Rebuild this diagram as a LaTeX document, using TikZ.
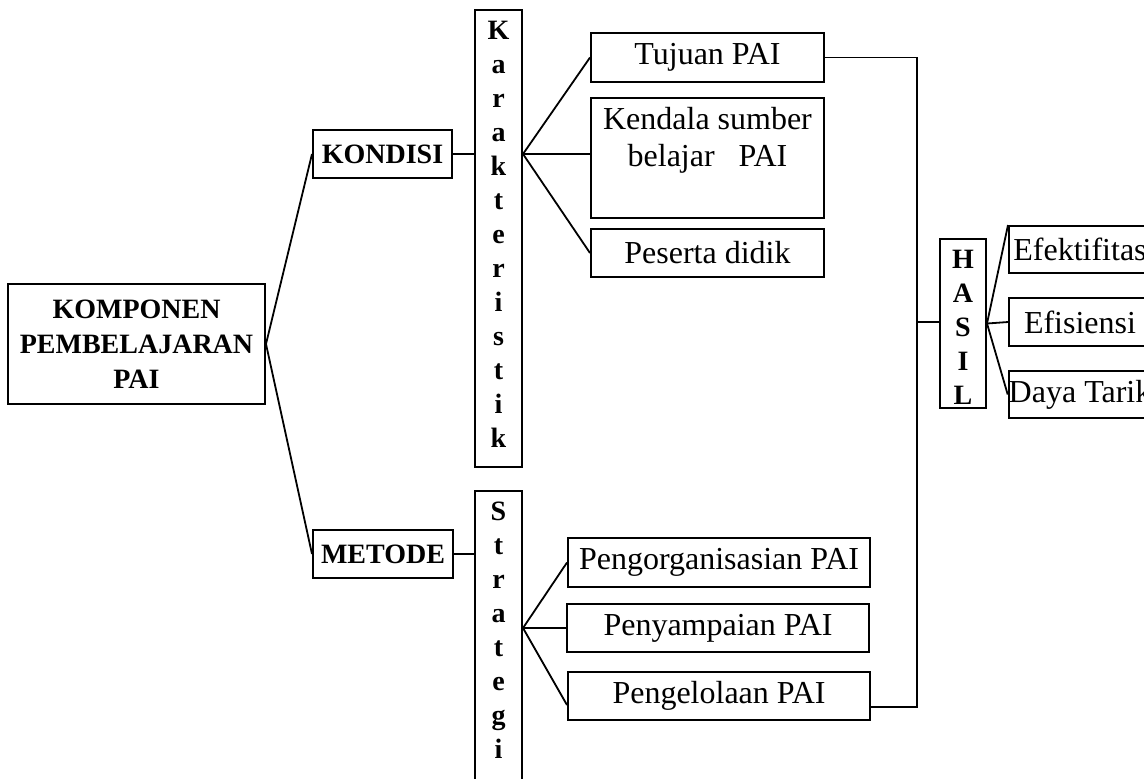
\documentclass[tikz,border=0pt]{standalone}
\usepackage{fontspec}
\setmainfont{Liberation Serif}
\newcommand{\tumpuk}[2]{\parbox[t]{#1}{\centering #2}}
\tikzset{
    %Define style for text boxes
    kotak/.style={
           rectangle,
           draw=black, line width=1pt,
           inner sep=0pt,
           font=\fontsize{16}{18.5}\selectfont},
    kotaktebal/.style={
           kotak,
           font=\fontsize{14}{17.5}\selectfont\bfseries},
    %Define style for upright letter boxes
    tegak/.style={
           rectangle,
           draw=black, line width=1pt,
           anchor=north,
           inner xsep=0pt, inner ysep=4.5pt,
           minimum width=23.5pt,
           text height=10pt,
           font=\fontsize{14}{17}\selectfont\bfseries},
    % Define line style
    garis/.style={
           line width=0.9pt}
}
\begin{document}
\begin{tikzpicture}[x=0.5pt,y=-0.5pt]
\useasboundingbox (0,0) rectangle (1144,778);

 %nodes
\node[kotaktebal, align=center, minimum width=128.5pt, minimum height=60pt] (komponen) at (136.5,344) {KOMPONEN\\PEMBELAJARAN\\PAI};
\node[kotaktebal, minimum width=69.5pt, minimum height=24pt] (kondisi) at (382.5,154) {KONDISI};
\node[kotaktebal, minimum width=70pt, minimum height=24pt] (metode) at (383,554) {METODE};
\node[tegak, text depth=209.5pt] (karakter) at (498.5,9) {\tumpuk{20pt}{K\\a\\r\\a\\k\\t\\e\\r\\i\\s\\t\\i\\k}};
\node[tegak, text depth=136.5pt] (strategi) at (498.5,490) {\tumpuk{20pt}{S\\t\\r\\a\\t\\e\\g\\i}};
\node[kotak, minimum width=116.5pt, minimum height=24.5pt] (tujuan) at (707.5,57.5) {Tujuan PAI};
\node[kotak, anchor=north, minimum width=116.5pt, inner ysep=4.5pt, text height=11pt, text depth=40pt] (kendala) at (707.5,97) {\tumpuk{112pt}{Kendala sumber\\belajar\ \ \ PAI}};
\node[kotak, minimum width=116.5pt, minimum height=24pt] (peserta) at (707.5,253) {Peserta didik};
\node[kotak, minimum width=151pt, minimum height=24.5pt] (organisasi) at (719,562.5) {Pengorganisasian PAI};
\node[kotak, minimum width=151pt, minimum height=24pt] (penyampaian) at (718,628) {Penyampaian PAI};
\node[kotak, minimum width=151pt, minimum height=24pt] (pengelolaan) at (719,696) {Pengelolaan PAI};
\node[tegak, minimum width=23pt, text depth=65.5pt] (hasil) at (963,238) {\tumpuk{20pt}{H\\A\\S\\I\\L}};
\node[kotak, minimum width=71pt, minimum height=23.5pt] (efektif) at (1080,249.5) {Efektifitas};
\node[kotak, minimum width=71pt, minimum height=24pt] (efisien) at (1080,322) {Efisiensi};
\node[kotak, minimum width=71pt, minimum height=23.5pt] (dayatarik) at (1080,394.5) {Daya Tarik};

 %connectors
\coordinate (kpusat) at (karakter.east |- kondisi.east);
\coordinate (spusat) at (strategi.east |- penyampaian.west);
\coordinate (bus) at (917,322);
\draw[garis] (komponen.east) edge (kondisi.west) edge (metode.west);
\draw[garis] (kondisi.east) -- (kondisi.east -| karakter.west);
\draw[garis] (metode.east) -- (metode.east -| strategi.west);
\draw[garis] (kpusat) edge (tujuan.west) edge (kpusat -| kendala.west) edge (peserta.west);
\draw[garis] (spusat) edge (organisasi.west) edge (penyampaian.west) edge ([yshift=-4.5pt]pengelolaan.west);
\draw[garis] (tujuan.east) -| (bus) |- ([yshift=-5.5pt]pengelolaan.east);
\draw[garis] (bus) -- (bus -| hasil.west);
\draw[garis] (hasil.east) edge (efektif.north west) edge (efisien.west) edge (dayatarik.west);
\end{tikzpicture}
\end{document}
